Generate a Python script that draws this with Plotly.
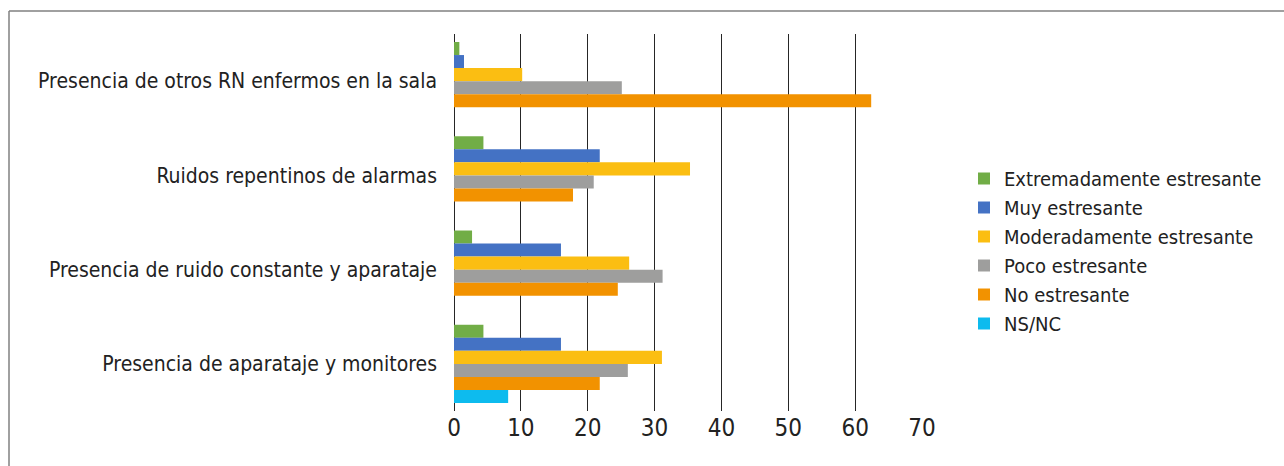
import plotly.graph_objects as go

categories = [
    "Presencia de otros RN enfermos en la sala",
    "Ruidos repentinos de alarmas",
    "Presencia de ruido constante y aparataje",
    "Presencia de aparataje y monitores",
]
series_names = [
    "Extremadamente estresante",
    "Muy estresante",
    "Moderadamente estresante",
    "Poco estresante",
    "No estresante",
    "NS/NC",
]
extremadamente = [0.8, 4.4, 2.7, 4.4]
muy = [1.5, 21.8, 16.0, 16.0]
moderadamente = [10.2, 35.3, 26.2, 31.1]
poco = [25.1, 20.9, 31.2, 26.0]
no_estresante = [62.4, 17.8, 24.5, 21.8]
nsnc = [0, 0, 0, 8.1]
x_ticks = [0, 10, 20, 30, 40, 50, 60, 70]

values = [extremadamente, muy, moderadamente, poco, no_estresante, nsnc]
colors = ["#71AD46", "#4472C4", "#FBBE12", "#9E9E9D", "#F29200", "#0DBBEE"]

FONT = "Liberation Sans Narrow, DejaVu Sans Condensed, Arial Narrow, sans-serif"

fig = go.Figure()
for name, vals, col in zip(series_names, values, colors):
    fig.add_trace(go.Bar(
        y=categories, x=vals, name=name, orientation="h",
        marker=dict(color=col, line=dict(width=0)),
    ))

W, H = 1284, 466
L, R, T, B = 454, 362, 34, 55
pw = W - L - R
ph = H - T - B

def px_x(p):
    return (p - L) / pw

def px_y(p):
    return (H - B - p) / ph

fig.update_layout(
    width=W, height=H,
    margin=dict(l=L, r=R, t=T, b=B, pad=0, autoexpand=False),
    paper_bgcolor="white", plot_bgcolor="white",
    barmode="group", bargap=0.17, bargroupgap=0,
    font=dict(family=FONT, color="#222222", size=20),
    showlegend=True,
    legend=dict(
        x=px_x(964), xanchor="left",
        y=px_y(251), yanchor="middle",
        font=dict(family=FONT, size=20, color="#222222"),
        traceorder="normal",
        bgcolor="rgba(0,0,0,0)",
        itemwidth=30,
    ),
    xaxis=dict(
        range=[0, 70], tickvals=x_ticks, ticktext=[str(v) for v in x_ticks],
        showgrid=True, gridcolor="#262626", gridwidth=1.2,
        zeroline=True, zerolinecolor="#262626", zerolinewidth=1.2,
        showline=False, ticks="", automargin=False,
        tickfont=dict(family=FONT, size=24, color="#222222"),
        fixedrange=True,
    ),
    yaxis=dict(
        categoryorder="array", categoryarray=categories,
        autorange="reversed",
        showgrid=False, zeroline=False, showline=False, ticks="",
        ticklabelstandoff=16, automargin=False,
        tickfont=dict(family=FONT, size=21, color="#222222"),
        fixedrange=True,
    ),
    shapes=[
        dict(type="line", xref="paper", yref="paper",
             x0=px_x(9), x1=px_x(1290), y0=px_y(11), y1=px_y(11),
             line=dict(color="#808080", width=1.5)),
        dict(type="line", xref="paper", yref="paper",
             x0=px_x(9), x1=px_x(9), y0=px_y(11), y1=px_y(470),
             line=dict(color="#808080", width=1.5)),
    ],
)

fig.write_html("out.html", config={"displayModeBar": False},
               post_script="document.body.style.margin='0';")
